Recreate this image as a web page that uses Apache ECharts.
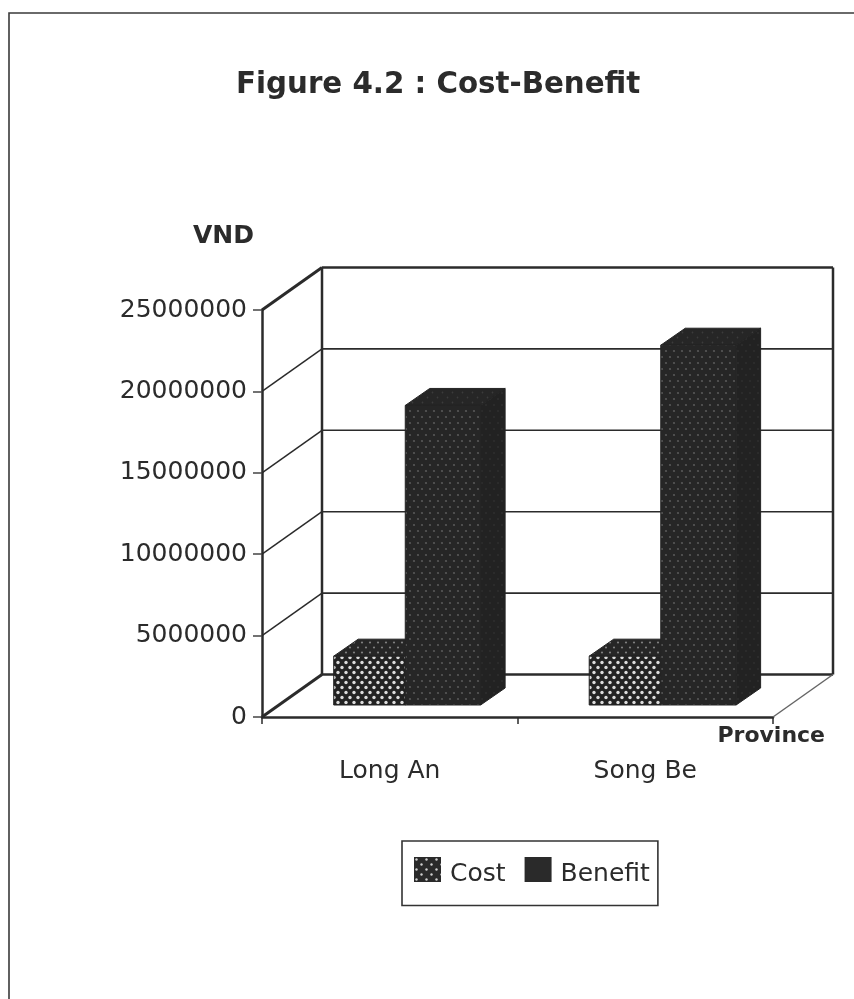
<!DOCTYPE html>
<html>
<head>
<meta charset="utf-8">
<title>Figure 4.2 : Cost-Benefit</title>
<style>
  html, body { margin: 0; padding: 0; background: #fff; }
  #chart { width: 854px; height: 999px; }
</style>
</head>
<body>
<div id="chart"></div>
<script src="https://cdn.jsdelivr.net/npm/echarts@6/dist/echarts.min.js"></script>
<script>
const categories = ["Long An", "Song Be"];
const costValues = [3000000, 3000000];
const benefitValues = [18400000, 22100000];
const tickValues = [0, 5000000, 10000000, 15000000, 20000000, 25000000];

const FONT = "DejaVu Sans";
const INK = "#2b2b2b";
// oblique shift of the back wall and of the bars' depth, in pixels
const WALL_DX = 60;
const WALL_DY = -42.5;
const BAR_FRONT_DX = 15.5;
const BAR_FRONT_DY = -12;
const BAR_DX = 24.5;
const BAR_DY = -17;

function dotPattern(bg, dot, radius, w, h) {
  const tile = document.createElement("canvas");
  tile.width = w;
  tile.height = h;
  const ctx = tile.getContext("2d");
  ctx.fillStyle = bg;
  ctx.fillRect(0, 0, w, h);
  ctx.fillStyle = dot;
  [[w / 4, h / 4], [(3 * w) / 4, (3 * h) / 4]].forEach(([x, y]) => {
    ctx.beginPath();
    ctx.arc(x, y, radius, 0, Math.PI * 2);
    ctx.fill();
  });
  return { image: tile, repeat: "repeat" };
}

const costFront = dotPattern("#222222", "#dcdcdc", 1.7, 8, 10);
const costTop = dotPattern("#262626", "#808080", 1.1, 8, 10);
const costIcon = dotPattern("#2a2a2a", "#d0d0d0", 1.2, 10, 10);
const benefitFront = dotPattern("#262626", "#585858", 1.1, 8, 12);
const benefitSide = dotPattern("#222222", "#303030", 0.9, 8, 12);
const benefitTop = dotPattern("#262626", "#3c3c3c", 0.9, 10, 10);

function face(points, fill, edge) {
  return {
    type: "polygon",
    shape: { points },
    style: { fill, stroke: edge, lineWidth: 1 },
  };
}

// the cost bar grows left of the band centre, the benefit bar right of it
function renderBar(side, ratio, faces) {
  return function (params, api) {
    const w = api.size([1, 0])[0] * ratio;
    const base = api.coord([api.value(0), 0]);
    const top = api.coord([api.value(0), api.value(1)]);
    const x0 = base[0] + BAR_FRONT_DX + (side < 0 ? -w : 0);
    const x1 = x0 + w;
    const yb = base[1] + BAR_FRONT_DY;
    const yt = top[1] + BAR_FRONT_DY;
    return {
      type: "group",
      children: [
        face([[x0, yt], [x0 + BAR_DX, yt + BAR_DY], [x1 + BAR_DX, yt + BAR_DY], [x1, yt]], faces.top, faces.edge),
        face([[x1, yt], [x1 + BAR_DX, yt + BAR_DY], [x1 + BAR_DX, yb + BAR_DY], [x1, yb]], faces.side, faces.edge),
        face([[x0, yt], [x1, yt], [x1, yb], [x0, yb]], faces.front, faces.edge),
      ],
    };
  };
}

function wallLine(x1, y1, x2, y2, width, color) {
  return {
    type: "line",
    shape: { x1, y1, x2, y2 },
    style: { stroke: color || INK, lineWidth: width },
  };
}

function renderWalls(params, api) {
  const sys = params.coordSys;
  const value = api.value(1);
  const y = api.coord([0, value])[1];
  const last = tickValues[tickValues.length - 1];
  const edge = value === 0 || value === last;
  const xb = sys.x + WALL_DX;
  const yb = y + WALL_DY;
  const children = [
    wallLine(sys.x, y, xb, yb, edge ? 3 : 1.5),
    wallLine(xb, yb, xb + sys.width, yb, edge ? 2.5 : 1.6),
  ];
  if (value === 0) {
    const yTop = api.coord([0, last])[1] + WALL_DY;
    children.push(wallLine(xb, yTop, xb, yb, 2.5));
    children.push(wallLine(xb + sys.width, yTop, xb + sys.width, yb, 2.5));
    children.push(wallLine(sys.x + sys.width, y, xb + sys.width, yb, 1.5, "#666666"));
  }
  return { type: "group", children };
}

const chart = echarts.init(document.getElementById("chart"), null, { renderer: "canvas" });

chart.setOption({
  animation: false,
  backgroundColor: "#ffffff",
  title: {
    text: "Figure 4.2 : Cost-Benefit",
    left: 236,
    top: 71,
    padding: 0,
    textStyle: { fontFamily: FONT, fontSize: 29.3, fontWeight: "bold", color: INK },
  },
  graphic: [
    {
      type: "polyline",
      shape: { points: [[9, 999], [9, 13], [854, 13]] },
      style: { fill: null, stroke: "#3a3a3a", lineWidth: 1.6 },
    },
  ],
  legend: {
    left: 402,
    top: 841,
    orient: "horizontal",
    padding: [16, 8, 19, 12],
    itemWidth: 27,
    itemHeight: 25,
    itemGap: 19,
    borderColor: "#333333",
    borderWidth: 1.6,
    data: ["Cost", "Benefit"],
    icon: "rect",
    formatter: (name) => `{t|${name}}`,
    textStyle: {
      fontFamily: FONT,
      fontSize: 25,
      color: INK,
      rich: { t: { fontFamily: FONT, fontSize: 25, color: INK, padding: [9, 0, 0, 4] } },
    },
  },
  grid: { left: 262, right: 81, top: 310, height: 407 },
  xAxis: {
    type: "category",
    data: categories,
    name: "Province",
    nameLocation: "end",
    nameGap: 52,
    nameTextStyle: {
      fontFamily: FONT,
      fontSize: 22,
      fontWeight: "bold",
      color: INK,
      align: "right",
      verticalAlign: "top",
      padding: [8, 0, 0, 0],
    },
    axisLine: { lineStyle: { color: INK, width: 2.5 } },
    axisTick: { show: true, alignWithLabel: false, length: 7, lineStyle: { color: INK, width: 1.5 } },
    axisLabel: { fontFamily: FONT, fontSize: 25, color: INK, margin: 42 },
  },
  yAxis: {
    type: "value",
    min: 0,
    max: 25000000,
    interval: 5000000,
    name: "VND",
    nameLocation: "end",
    nameGap: 61,
    nameTextStyle: {
      fontFamily: FONT,
      fontSize: 25,
      fontWeight: "bold",
      color: INK,
      align: "right",
      padding: [0, 8, 0, 0],
    },
    splitLine: { show: false },
    axisLine: { show: true, lineStyle: { color: INK, width: 2.5 } },
    axisTick: { show: true, length: 9, lineStyle: { color: "#444444", width: 1.5 } },
    axisLabel: {
      fontFamily: FONT,
      fontSize: 25,
      color: INK,
      margin: 15,
      formatter: (value) => String(value),
    },
  },
  series: [
    {
      name: "Walls",
      type: "custom",
      clip: false,
      silent: true,
      data: tickValues.map((v) => [0, v]),
      renderItem: renderWalls,
      z: 1,
    },
    {
      name: "Cost",
      type: "custom",
      clip: false,
      itemStyle: { color: costIcon },
      data: costValues.map((v, i) => [i, v]),
      renderItem: renderBar(-1, 0.28, { front: costFront, top: costTop, side: costTop, edge: "#222222" }),
      z: 2,
    },
    {
      name: "Benefit",
      type: "custom",
      clip: false,
      itemStyle: { color: "#2a2a2a" },
      data: benefitValues.map((v, i) => [i, v]),
      renderItem: renderBar(1, 0.295, { front: benefitFront, top: benefitTop, side: benefitSide, edge: "#242424" }),
      z: 3,
    },
  ],
});
</script>
</body>
</html>
